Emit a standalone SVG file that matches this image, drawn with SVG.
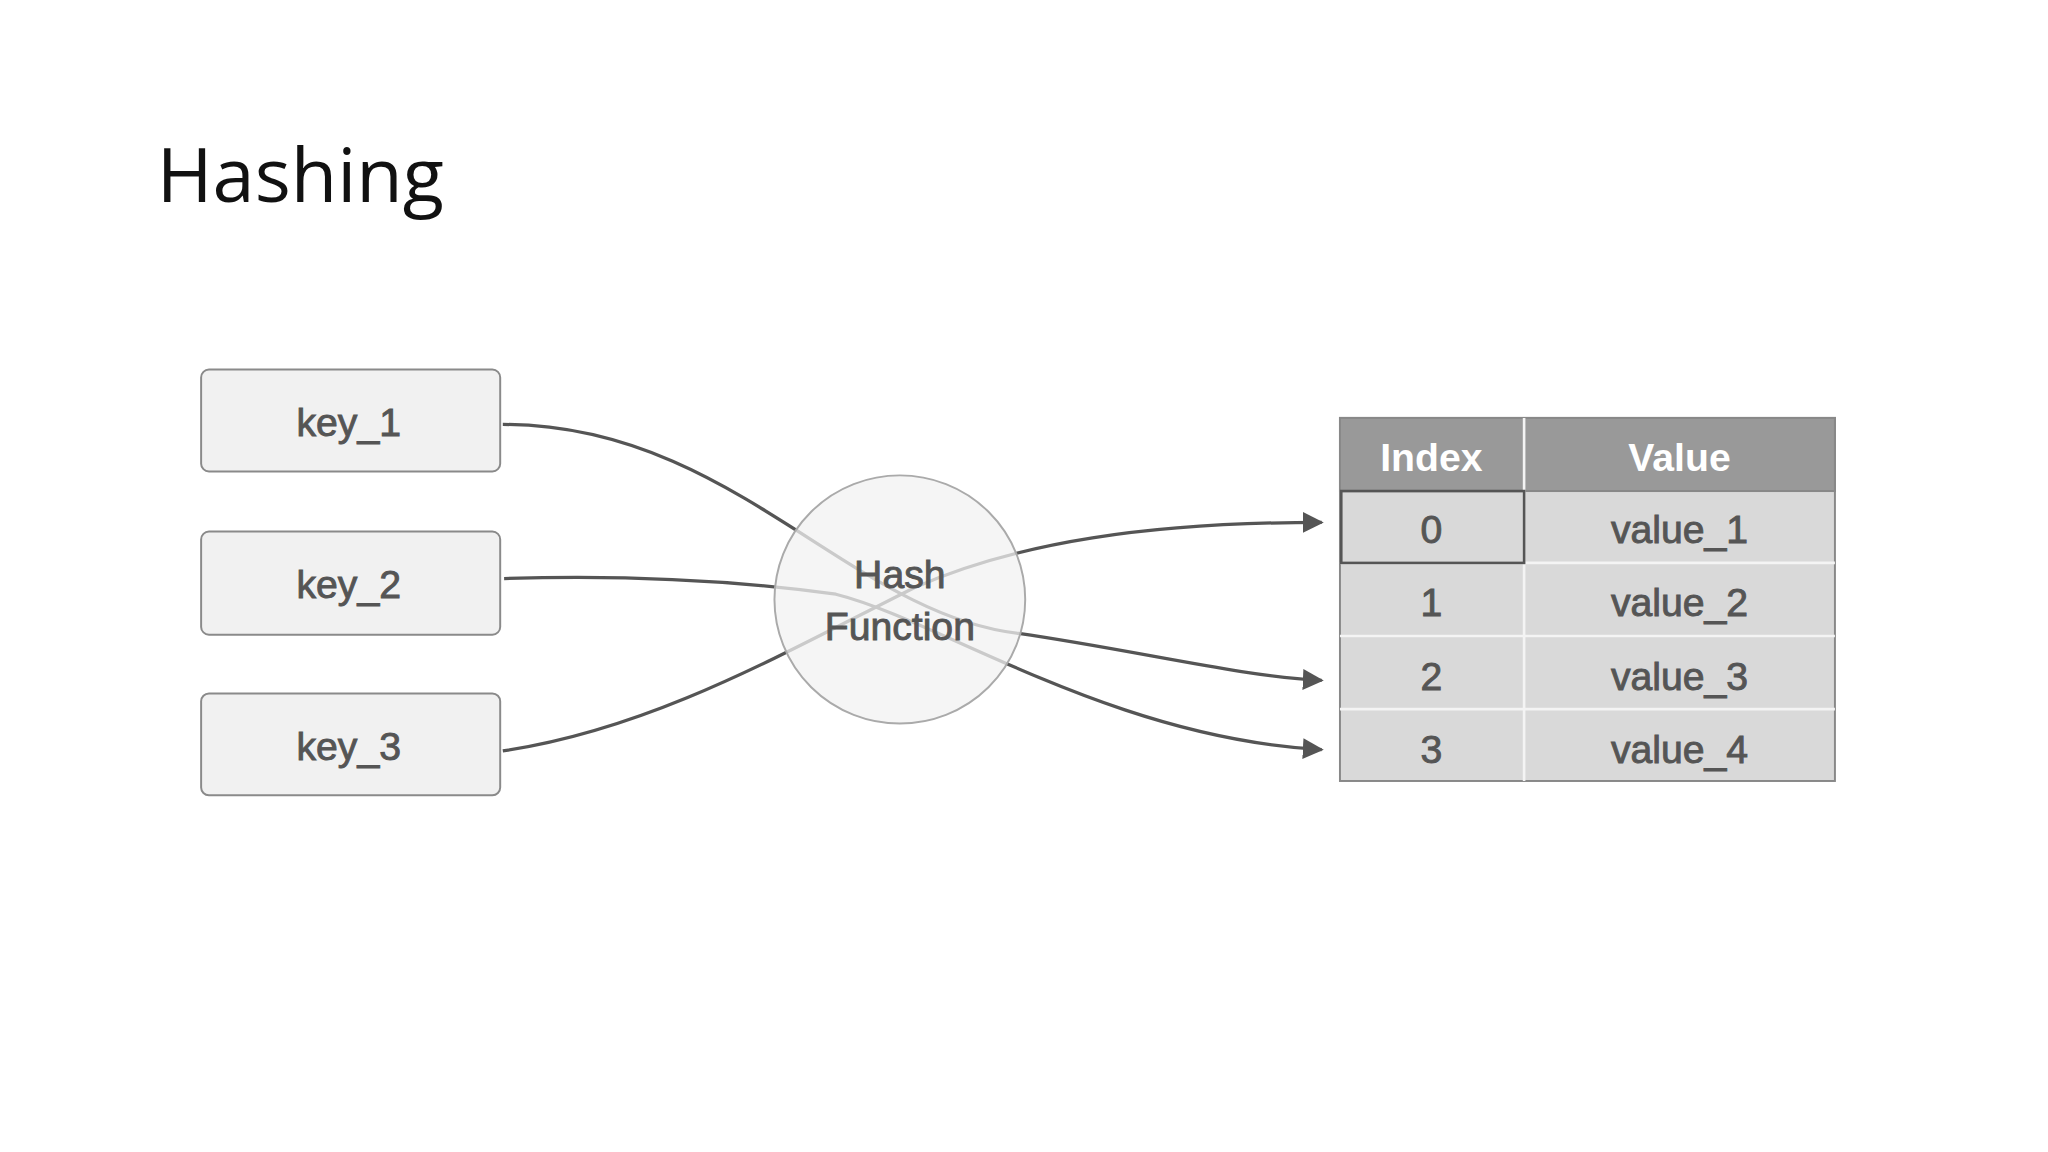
<svg xmlns="http://www.w3.org/2000/svg" width="2048" height="1152" viewBox="0 0 2048 1152">
<style>
.key rect{fill:#f1f1f1;stroke:#8a8a8a;stroke-width:1.5}
.lbl{font-family:"Liberation Sans",Arial,sans-serif;font-size:30px;fill:#555;stroke:#555;stroke-width:0.7;text-anchor:middle}
.hdr{font-family:"Liberation Sans",Arial,sans-serif;font-size:30px;fill:#fff;font-weight:bold;text-anchor:middle}
.edge{fill:none;stroke:#555;stroke-width:2.5}
</style>
<defs><marker id="a" viewBox="0 0 10 10" refX="9" refY="5" markerWidth="16" markerHeight="16" markerUnits="userSpaceOnUse" orient="auto"><path d="M0,0 L10,5 L0,10 z" fill="#555"/></marker></defs>
<rect width="2048" height="1152" fill="#fff"/>
<g transform="scale(1.306)">
<text x="120" y="155" font-family="Open Sans, sans-serif" font-size="58" fill="#111">Hashing</text>
<g id="connectors">
<path class="edge" d="M385,325 C560,325 650,470 780,485 C870,498 950,518 1012,521" marker-end="url(#a)"/>
<path class="edge" d="M386,443 C480,440 560,444 640,455 C720,475 850,565 1012,574" marker-end="url(#a)"/>
<path class="edge" d="M385,575 C500,558 600,500 700,450 C780,415 880,400 1012,400" marker-end="url(#a)"/>
</g>
<g id="hash"><ellipse cx="689" cy="459" rx="96" ry="95" fill="#f1f1f1" fill-opacity="0.75" stroke="#aaa" stroke-width="1.5"/>
<text class="lbl" x="689" y="450">Hash</text><text class="lbl" x="689" y="490">Function</text></g>
<g id="key_1" class="key"><rect x="154" y="283" width="229" height="78" rx="6"/><text class="lbl" x="267" y="334">key_1</text></g>
<g id="key_2" class="key"><rect x="154" y="407" width="229" height="79" rx="6"/><text class="lbl" x="267" y="458">key_2</text></g>
<g id="key_3" class="key"><rect x="154" y="531" width="229" height="78" rx="6"/><text class="lbl" x="267" y="582">key_3</text></g>
<g id="table">
<rect x="1026" y="320" width="379" height="278" fill="#d9d9d9" stroke="#888" stroke-width="1.5"/>
<rect x="1026" y="320" width="379" height="56" fill="#999" stroke="#888" stroke-width="1.5"/>
<g stroke="#f4f4f4" stroke-width="2"><line x1="1167" y1="320" x2="1167" y2="598"/><line x1="1026" y1="431" x2="1405" y2="431"/><line x1="1026" y1="487" x2="1405" y2="487"/><line x1="1026" y1="543" x2="1405" y2="543"/></g>
<rect x="1027" y="376" width="140" height="55" fill="none" stroke="#555" stroke-width="2"/>
<text class="hdr" x="1096" y="361">Index</text><text class="hdr" x="1286" y="361">Value</text>
<text class="lbl" x="1096" y="416">0</text><text class="lbl" x="1286" y="416">value_1</text>
<text class="lbl" x="1096" y="472">1</text><text class="lbl" x="1286" y="472">value_2</text>
<text class="lbl" x="1096" y="528">2</text><text class="lbl" x="1286" y="528">value_3</text>
<text class="lbl" x="1096" y="584">3</text><text class="lbl" x="1286" y="584">value_4</text>
</g>
</g>
</svg>
